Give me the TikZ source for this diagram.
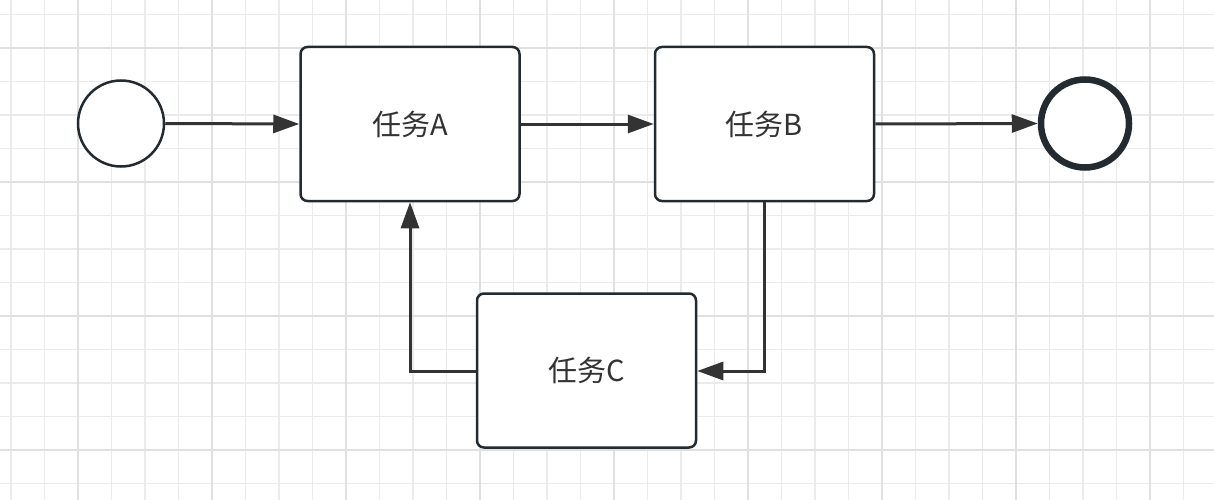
\documentclass[tikz,border=0pt]{standalone}
\usepackage{fontspec}
\setmainfont{Noto Sans CJK SC}
\usetikzlibrary{arrows.meta}
\definecolor{gridminor}{HTML}{EBEBEB}
\definecolor{gridmajor}{HTML}{E0E0E0}
\definecolor{edge}{HTML}{232A30}
\definecolor{conn}{HTML}{333333}
\begin{document}
\begin{tikzpicture}[x=1pt,y=-1pt,
  task/.style={draw=edge,line width=2.5pt,rounded corners=7pt,fill=white,minimum width=219pt,minimum height=154pt,inner sep=0pt,font=\fontsize{29pt}{32pt}\selectfont,text=conn},
  startev/.style={circle,draw=edge,line width=2.5pt,fill=white,minimum size=86pt,inner sep=0pt},
  endev/.style={circle,draw=edge,line width=6.5pt,fill=white,minimum size=88pt,inner sep=0pt},
  flow/.style={draw=conn,line width=3pt,-{Triangle[length=26pt,width=18pt]}}]
\useasboundingbox (0,0) rectangle (1214,500);
\fill[white] (0,0) rectangle (1214,500);
% grid
\foreach \i in {-2,...,34} {
  \pgfmathsetmacro{\gx}{78+33.5*\i}
  \draw[gridminor,line width=1.2pt] (\gx,0) -- (\gx,500);
}
\foreach \j in {-1,...,13} {
  \pgfmathsetmacro{\gy}{48+33.5*\j}
  \draw[gridminor,line width=1.2pt] (0,\gy) -- (1214,\gy);
}
\foreach \i in {0,...,8} {
  \pgfmathsetmacro{\gx}{78+134*\i}
  \draw[gridmajor,line width=2pt] (\gx,0) -- (\gx,500);
}
\foreach \j in {0,...,3} {
  \pgfmathsetmacro{\gy}{48+134*\j}
  \draw[gridmajor,line width=2pt] (0,\gy) -- (1214,\gy);
}
% nodes
\node[startev] (s) at (121,123.5) {};
\node[endev] (e) at (1085,123.5) {};
\node[task] (a) at (410,124) {任务A};
\node[task] (b) at (764.5,124) {任务B};
\node[task] (c) at (586.5,370.5) {任务C};
\coordinate (bc) at (764.5,371);
\coordinate (ca) at (410,371);
% connectors
\draw[flow] (s.east) -- (a.west);
\draw[flow] (a.east) -- (b.west);
\draw[flow] (b.east) -- (e.west);
\draw[flow] (b.south) -- (bc) -- (c.east |- bc);
\draw[flow] (c.west |- ca) -- (ca) -- (a.south);
\end{tikzpicture}
\end{document}
